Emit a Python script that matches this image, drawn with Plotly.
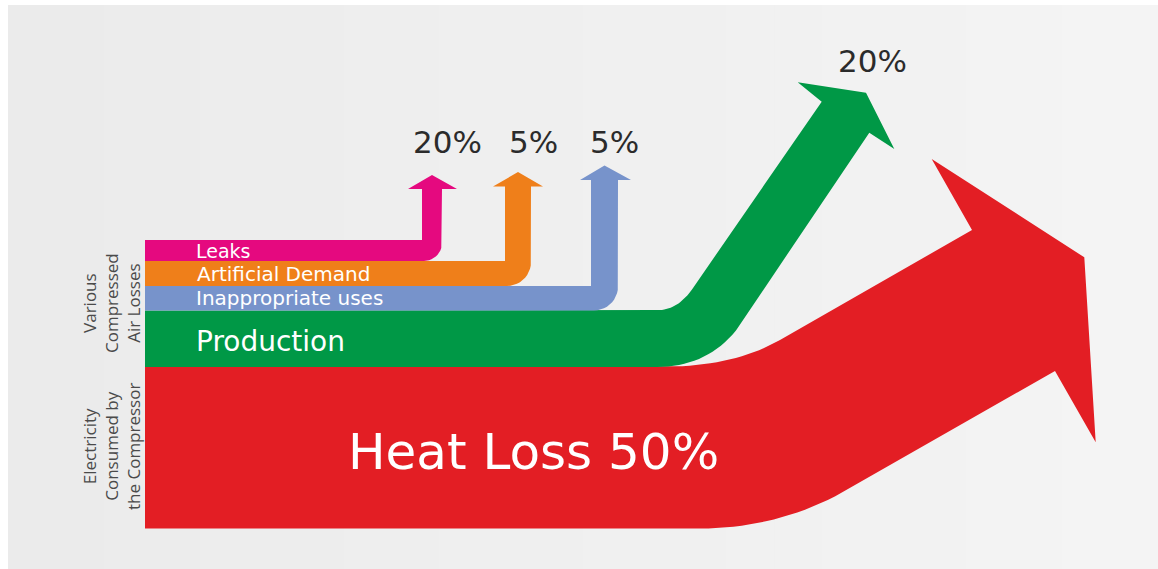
import numpy as np
import plotly.graph_objects as go

# ---------------- data ----------------
categories = ["Leaks", "Artificial Demand", "Inappropriate uses", "Production", "Heat Loss"]
values = [20, 5, 5, 20, 50]
band_text = ["Leaks", "Artificial Demand", "Inappropriate uses", "Production", "Heat Loss 50%"]
group_labels = ["Various<br>Compressed<br>Air Losses", "Electricity<br>Consumed by<br>the Compressor"]

# ---------------- styling / geometry ----------------
W, H = 1158, 569
COL = ["#e5097f", "#ef7f1a", "#7793cb", "#009846", "#e31e24"]
X0 = 145
BAND_EDGES = [240, 261, 286, 310.5, 367, 528.5]   # y edges of stacked bands


def quad(p0, p1, p2, n=20):
    t = np.linspace(0, 1, n)
    x = (1 - t) ** 2 * p0[0] + 2 * (1 - t) * t * p1[0] + t ** 2 * p2[0]
    y = (1 - t) ** 2 * p0[1] + 2 * (1 - t) * t * p1[1] + t ** 2 * p2[1]
    return list(zip(x, y))


def l_arrow(ytop, ybot, xl, xr, head_base, tip, wl, wr, r):
    pts = [(X0, ytop), (xl, ytop), (xl, head_base), (wl, head_base),
           ((xl + xr) / 2, tip), (wr, head_base), (xr, head_base), (xr, ybot - r)]
    cx, cy = xr - r, ybot - r
    for th in np.linspace(0, np.pi / 2, 12):
        pts.append((cx + r * np.cos(th), cy + r * np.sin(th)))
    pts += [(X0, ybot), (X0, ytop)]
    return pts


shapes_pts = []
shapes_pts.append(l_arrow(BAND_EDGES[0], BAND_EDGES[1], 422, 442, 189, 175, 408, 457, 18))
shapes_pts.append(l_arrow(BAND_EDGES[1], BAND_EDGES[2], 505, 531, 186.5, 172, 493, 543, 24))
shapes_pts.append(l_arrow(BAND_EDGES[2], BAND_EDGES[3], 591, 618, 180, 165.5, 580, 631, 24))

# Production (green)
g = [(X0, BAND_EDGES[3]), (655, BAND_EDGES[3])]
g += quad((655, BAND_EDGES[3]), (677.8, BAND_EDGES[3]), (692, 289.4))
g += [(821.7, 101.7), (797.7, 82.3), (866, 92.7), (894.3, 149), (869.3, 132.7), (742.7, 321.4)]
g += quad((742.7, 321.4), (712, BAND_EDGES[4]), (657, BAND_EDGES[4]))
g += [(X0, BAND_EDGES[4]), (X0, BAND_EDGES[3])]
shapes_pts.append(g)

# Heat loss (red)
rd = [(X0, BAND_EDGES[4]), (660, BAND_EDGES[4])]
rd += quad((660, BAND_EDGES[4]), (733, BAND_EDGES[4]), (780, 340))
rd += [(972, 230), (931.7, 159), (1084.3, 257.3), (1095.7, 442.3), (1055, 371), (850, 488.3)]
rd += quad((850, 488.3), (780.5, BAND_EDGES[5]), (700, BAND_EDGES[5]))
rd += [(X0, BAND_EDGES[5]), (X0, BAND_EDGES[4])]
shapes_pts.append(rd)

fig = go.Figure()

# background panel (soft horizontal gradient)
n_strips = 24
x_edges = np.linspace(8, W, n_strips + 1)
for i in range(n_strips):
    v = int(round(235 + (244 - 235) * i / (n_strips - 1)))
    fig.add_shape(type="rect", xref="x", yref="y", x0=x_edges[i], x1=x_edges[i + 1] + 1,
                  y0=5, y1=H, fillcolor=f"rgb({v},{v},{v})", line_width=0, layer="below")

for idx in [4, 3, 2, 1, 0]:
    pts = shapes_pts[idx]
    xs = [p[0] for p in pts]
    ys = [p[1] for p in pts]
    fig.add_trace(go.Scatter(x=xs, y=ys, mode="lines", fill="toself",
                             fillcolor=COL[idx], line=dict(width=0, color=COL[idx]),
                             hoverinfo="skip", showlegend=False, name=categories[idx]))

FONT = "DejaVu Sans, sans-serif"
band_pos = [(194, 251, 19), (195, 273.5, 20), (194, 297.5, 20), (194, 341, 28)]
for i, (x, y, s) in enumerate(band_pos):
    fig.add_annotation(x=x, y=y, xref="x", yref="y", text=band_text[i], showarrow=False,
                       xanchor="left", yanchor="middle", font=dict(family=FONT, size=s, color="white"))
fig.add_annotation(x=533, y=452, xref="x", yref="y", text=band_text[4], showarrow=False,
                   xanchor="center", yanchor="middle", font=dict(family=FONT, size=50, color="white"))

pct_pos = [(447, 142), (533.5, 142), (614, 142), (872, 61)]
for i, (x, y) in enumerate(pct_pos):
    fig.add_annotation(x=x, y=y, xref="x", yref="y", text=f"{values[i]}%", showarrow=False,
                       xanchor="center", yanchor="middle", font=dict(family=FONT, size=31, color="#2b2b2b"))

for txt, y in zip(group_labels, [303, 447]):
    fig.add_annotation(x=111, y=y, xref="x", yref="y", text=txt, showarrow=False, textangle=-90,
                       xanchor="center", yanchor="middle",
                       font=dict(family="Open Sans, sans-serif", size=17, color="#4a4a4a"))

fig.update_layout(width=W, height=H, margin=dict(l=0, r=0, t=0, b=0),
                  paper_bgcolor="white", plot_bgcolor="white",
                  xaxis=dict(range=[0, W], visible=False, fixedrange=True),
                  yaxis=dict(range=[H, 0], visible=False, fixedrange=True),
                  showlegend=False)

fig.write_html("out.html")
